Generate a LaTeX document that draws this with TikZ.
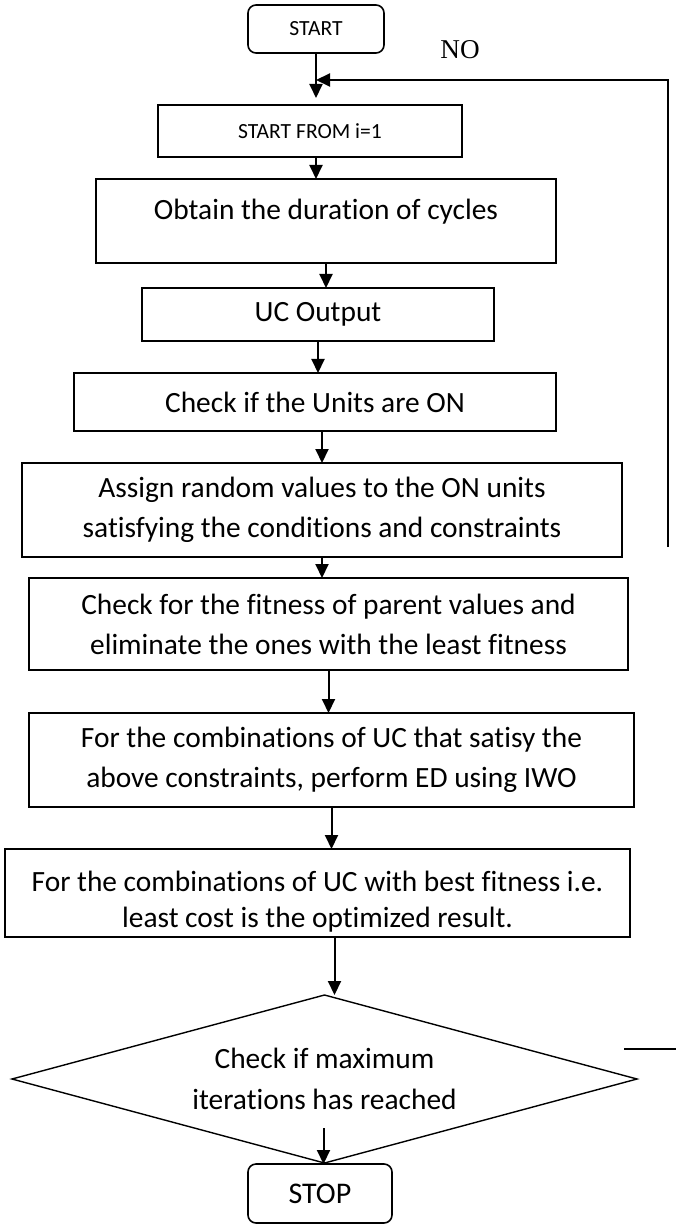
\documentclass[tikz,border=0pt]{standalone}
\usepackage{fontspec}
\setmainfont{Carlito}[Ligatures=CommonOff]
\newfontfamily\nofont{Liberation Serif}
\usetikzlibrary{shapes.geometric, arrows.meta, positioning, calc}
\tikzset{
    startstop/.style={rectangle, rounded corners=4pt, draw=black, line width=0.8pt, outer sep=0pt, align=center, inner sep=1pt, font=\fontsize{10.8pt}{13pt}\selectfont},
    process/.style  ={rectangle, draw=black, line width=0.8pt, outer sep=0pt, align=center, inner sep=1pt, font=\fontsize{14.7pt}{20pt}\selectfont},
    decision/.style ={diamond, aspect=3.7, draw=black, line width=0.7pt, outer sep=0pt, align=center, inner sep=0pt, font=\fontsize{14.7pt}{20.5pt}\selectfont},
    nolabel/.style  ={inner sep=0pt, font=\nofont\fontsize{13.6pt}{16pt}\selectfont},
    flowarrow/.style={-{Triangle[length=7pt, width=6.5pt]}, line width=1pt},
}
\begin{document}
\begin{tikzpicture}
                \useasboundingbox (0,0) rectangle (338pt,-612pt);
                \node[startstop, minimum width=68pt, minimum height=24pt] (start) at (158pt,-14.5pt) {START};
                \node[process, font=\fontsize{10.8pt}{13pt}\selectfont, minimum width=152pt, minimum height=26pt, below=26pt of start, xshift=-3pt] (init) {START FROM i=1};
                \node[process, minimum width=230pt, minimum height=42pt, text depth=11.5pt, below=11pt of init, xshift=8pt] (obtain) {Obtain the duration of cycles};
                \node[process, minimum width=176pt, minimum height=26.5pt, below=12.5pt of obtain, xshift=-4pt] (ucout) {UC Output};
                \node[process, minimum width=241pt, minimum height=29pt, below=16pt of ucout, xshift=-1.5pt] (units) {Check if the Units are ON};
                \node[process, minimum width=300pt, minimum height=47pt, below=16pt of units, xshift=3.5pt] (assign) {Assign random values to the ON units\\satisfying the conditions and constraints};
                \node[process, minimum width=299.5pt, minimum height=46pt, below=10.5pt of assign, xshift=3.25pt] (fitness) {Check for the fitness of parent values and\\eliminate the ones with the least fitness};
                \node[process, minimum width=302.5pt, minimum height=47pt, below=21.5pt of fitness, xshift=1.5pt] (dispatch) {For the combinations of UC that satisy the\\above constraints, perform ED using IWO};
                \node[process, minimum width=312.5pt, minimum height=44pt, text height=38pt, text depth=4pt, below=21pt of dispatch, xshift=-7pt] (result) {For the combinations of UC with best fitness i.e.\\[-2pt]least cost is the optimized result.};
                \node[decision, minimum width=312.5pt, minimum height=84pt, below=29pt of result, xshift=3.5pt] (maxit) {Check if maximum\\iterations has reached};
                \node[startstop, font=\fontsize{15pt}{18pt}\selectfont, minimum width=72pt, minimum height=29.5pt, below=0.5pt of maxit, xshift=-2.25pt] (stop) {STOP};
                \node[nolabel, right=28pt of start, yshift=-10.5pt] (nolbl) {NO};
                \coordinate (merge) at ($(start.south)+(0,-13.5pt)$);
                \coordinate (loopend) at ($(assign.south east)+(23pt,5pt)$);
                \coordinate (stub) at ($(maxit.east)+(-6.5pt,15pt)$);
                \draw[flowarrow, shorten >=3.5pt](start.south)--(start.south |- init.north);
                \draw[flowarrow](loopend)|-(merge);
                \draw[flowarrow]([xshift=3pt]init.south)--([xshift=3pt]init.south |- obtain.north);
                \draw[flowarrow](obtain.south)--(obtain.south |- ucout.north);
                \draw[flowarrow](ucout.south)--(ucout.south |- units.north);
                \draw[flowarrow]([xshift=3.5pt]units.south)--([xshift=3.5pt]units.south |- assign.north);
                \draw[flowarrow](assign.south)--(assign.south |- fitness.north);
                \draw[flowarrow](fitness.south)--(fitness.south |- dispatch.north);
                \draw[flowarrow](dispatch.south)--(dispatch.south |- result.north);
                \draw[flowarrow]([xshift=8.5pt]result.south)--([xshift=8.5pt]result.south |- maxit.north);
                \draw[flowarrow]($(maxit.south)+(-0.5pt,17.5pt)$)--($(stop.north)+(1.75pt,0)$);
                \draw[line width=0.8pt](stub)--++(26pt,0);
            \end{tikzpicture}
\end{document}
